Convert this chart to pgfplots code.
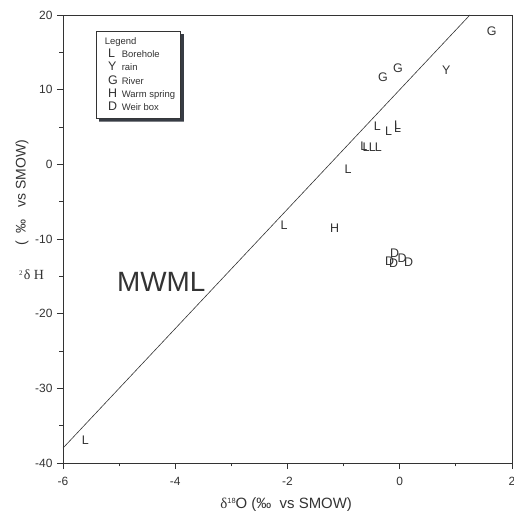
\documentclass[border=0pt]{standalone}
\usepackage{pgfplots}
\pgfplotsset{compat=1.18}
\usepackage{fontspec}
\setmainfont{Liberation Sans}
\newfontfamily\seriffont{Liberation Serif}
\definecolor{ink}{HTML}{333333}
\definecolor{shadowc}{RGB}{55,60,68}
\newcommand{\fs}[1]{\fontsize{#1}{#1}\selectfont}
\begin{document}
\begin{tikzpicture}
\begin{axis}[
  name=ax,
  clip mode=individual,
  scale only axis, width=449bp, height=448bp,
  xmin=-6, xmax=2, ymin=-40, ymax=20,
  xtick={-6,-4,-2,0,2}, minor xtick={-5,-3,-1,1},
  ytick={-40,-30,-20,-10,0,10,20}, minor ytick={-35,-25,-15,-5,5,15},
  tick pos=left, tick align=outside,
  major tick length=6bp, minor tick length=3.5bp,
  every tick/.style={ink, line width=0.8bp},
  axis line style={ink, line width=0.8bp},
  /pgf/number format/assume math mode=true,
  ticklabel style={font=\fs{12}, text=ink},
  xticklabel style={yshift=-5bp},
  yticklabel style={xshift=-1bp},
  legend style={name=leg, at={(axis description cs:0.0735,0.964)}, anchor=north west,
     draw=ink, line width=0.6bp, fill=white, font=\fs{9.5},
     row sep=1.2bp, column sep=2.5bp, inner xsep=4bp, inner ysep=4.5bp,
     nodes={text=ink, inner sep=1.5bp, text height=7bp, text depth=2bp}},
  legend cell align=left,
  legend image code/.code={\path[draw=none, fill=none] (0,-4bp) rectangle (11.5bp,4bp); \draw[only marks] plot coordinates {(7.5bp,0)};},
  every axis plot/.append style={only marks, mark=text, text mark as node=true,
     text mark style={font=\fs{12.5}, text=ink, inner sep=0pt, draw=none, fill=none}},
]
\addplot[forget plot, no marks, sharp plot, ink, line width=0.6bp] coordinates {(-6,-38) (1.25,20)};
\addlegendimage{empty legend}
\addlegendentry{\hspace{-17bp}Legend}
\addplot[text mark={L}] coordinates {
(-5.6,-37.0) (-2.06,-8.1) (-0.92,-0.7) (-0.64,2.4) (-0.60,2.3) (-0.49,2.3) (-0.38,2.3)
(-0.40,5.1) (-0.20,4.4) (-0.04,5.3) (-0.04,4.9)};
\addlegendentry{Borehole}
\addplot[text mark={Y}] coordinates {(0.83,12.6)};
\addlegendentry{rain}
\addplot[text mark={G}] coordinates {(-0.30,11.7) (-0.03,12.9) (1.64,17.8)};
\addlegendentry{River}
\addplot[text mark={H}] coordinates {(-1.16,-8.5)};
\addlegendentry{Warm spring}
\addplot[text mark={D}] coordinates {(-0.09,-11.9) (-0.18,-13.0) (-0.11,-13.3) (0.04,-12.6) (0.16,-13.1)};
\addlegendentry{Weir box}
\node[font=\fs{28}, text=ink] at (axis cs:-4.25,-15.7) {MWML};
\node[font=\fs{14}, text=ink, rotate=90] at (axis description cs:-0.0913,0.603) {(\ \ ‰\ \ \ vs SMOW)};
\node[text=ink] at (axis description cs:-0.07,0.42) {\seriffont\fs{7}\raisebox{4bp}{2}\,\fs{14}δ H};
\node[font=\fs{15}, text=ink] at (axis description cs:0.497,-0.093) {{\seriffont δ}\raisebox{5bp}{\fs{7.5}18}O (‰\ \ vs SMOW)};
\end{axis}
\fill[shadowc] ([yshift=-3bp]leg.north east) -- ([xshift=3bp,yshift=-3bp]leg.north east)
  -- ([xshift=3bp,yshift=-3bp]leg.south east) -- ([xshift=3bp,yshift=-3bp]leg.south west)
  -- ([xshift=3bp]leg.south west) -- (leg.south east) -- cycle;
\pgfresetboundingbox
\path ([xshift=-63bp,yshift=-48bp]ax.south west) rectangle ([xshift=2bp,yshift=15bp]ax.north east);
\end{tikzpicture}
\end{document}
